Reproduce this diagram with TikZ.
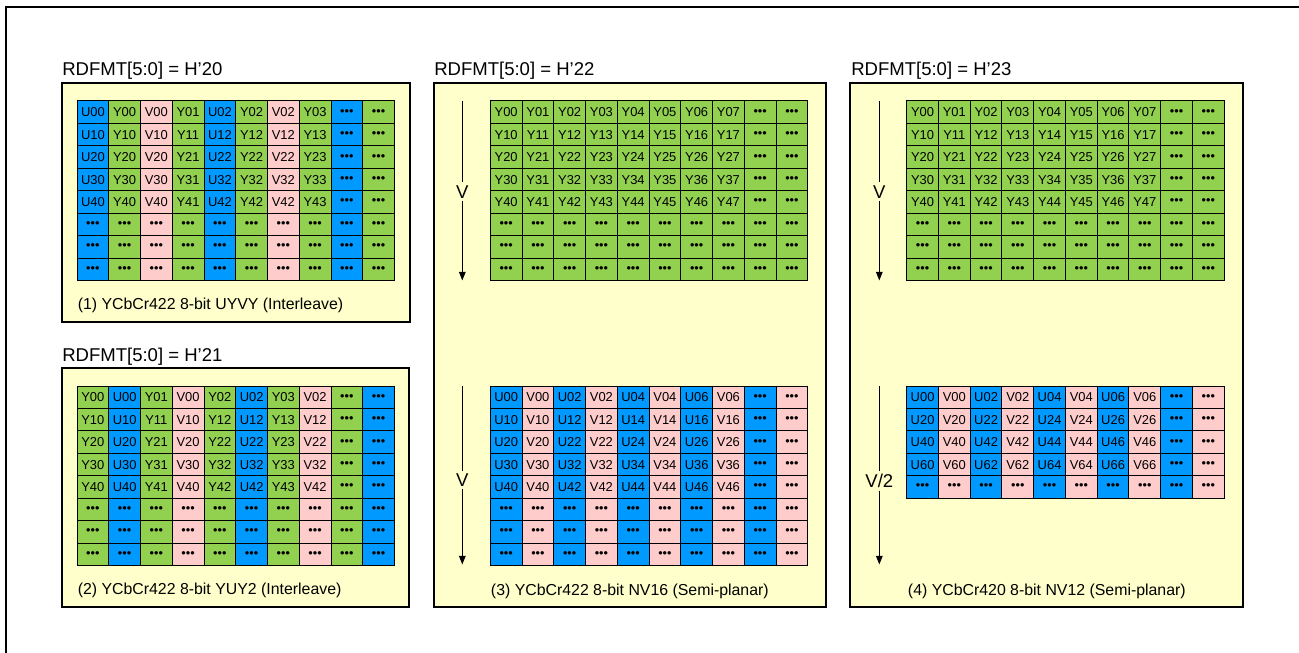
\documentclass[tikz,border=0pt]{standalone}
\usepackage{fontspec}
\setmainfont{Liberation Sans}
\usetikzlibrary{arrows.meta}
\definecolor{cb}{RGB}{0,153,255}
\definecolor{cg}{RGB}{146,208,80}
\definecolor{cp}{RGB}{255,204,204}
\definecolor{cy}{RGB}{255,255,204}
\newcommand\cellfont{\fontsize{9.7pt}{11pt}\selectfont}
\newcommand\titlefont{\fontsize{13.9pt}{16pt}\selectfont}
\newcommand\capfont{\fontsize{11.9pt}{14pt}\selectfont}
\newcommand\dotsym{{\fontsize{9.5pt}{10pt}\selectfont •••}}
\tikzset{
 cell/.style={draw=black, line width=0.75pt, minimum width=23.81pt, minimum height=16.84pt, inner sep=0pt, font=\cellfont},
 panel/.style={draw=black, line width=1.5pt, fill=cy},
 title/.style={anchor=base west, inner sep=0pt, font=\titlefont},
 caption/.style={anchor=base west, inner sep=0pt, font=\capfont},
 dirlabel/.style={inner sep=2pt, font=\titlefont, fill=cy},
 dirline/.style={line width=0.75pt},
 dirarrow/.style={line width=0.75pt, -{Triangle[length=6.5pt,width=5pt]}},
}
\newcommand\pixgrid[7]{%
 \foreach \c/\clr/\lt/\ix in {#7}{%
  \foreach \r in {1,...,#4}{%
   \pgfmathsetmacro\xx{#2+(\c+0.5)*31.75}%
   \pgfmathsetmacro\yy{#3+(\r-0.5)*22.45}%
   \pgfmathtruncatemacro\rr{(\r-1)*#6}%
   \ifnum\r>#5\relax\def\txt{\dotsym}\else\ifnum\ix<0\relax\def\txt{\dotsym}\else\edef\txt{\lt\rr\ix}\fi\fi
   \node[cell,fill=\clr] (#1-\r-\c) at (\xx,\yy) {\txt};
  }}}
\begin{document}
\begin{tikzpicture}[x=0.75pt,y=-0.75pt]
\useasboundingbox (0,0) rectangle (1299,653);
% outer frame
\draw[line width=1.5pt] (6,653) -- (6,6.5) -- (1299,6.5);
% panels
\draw[panel] (62,83) rectangle (410,322);
\draw[panel] (62,368) rectangle (409,607);
\draw[panel] (433.5,83) rectangle (826,607);
\draw[panel] (849.5,83) rectangle (1242.5,607);
% titles
\node[title] (t1) at (62,75.5) {RDFMT[5:0] = H’20};
\node[title] (t2) at (62,361) {RDFMT[5:0] = H’21};
\node[title] (t3) at (434,75.5) {RDFMT[5:0] = H’22};
\node[title] (t4) at (851,75.5) {RDFMT[5:0] = H’23};
% grids
\pixgrid{ga}{77}{101}{8}{5}{1}{0/cb/U/0,1/cg/Y/0,2/cp/V/0,3/cg/Y/1,4/cb/U/2,5/cg/Y/2,6/cp/V/2,7/cg/Y/3,8/cb/U/-1,9/cg/Y/-1}
\pixgrid{gb}{77}{386}{8}{5}{1}{0/cg/Y/0,1/cb/U/0,2/cg/Y/1,3/cp/V/0,4/cg/Y/2,5/cb/U/2,6/cg/Y/3,7/cp/V/2,8/cg/Y/-1,9/cb/U/-1}
\pixgrid{gc}{490.3}{101}{8}{5}{1}{0/cg/Y/0,1/cg/Y/1,2/cg/Y/2,3/cg/Y/3,4/cg/Y/4,5/cg/Y/5,6/cg/Y/6,7/cg/Y/7,8/cg/Y/-1,9/cg/Y/-1}
\pixgrid{gd}{490.3}{386}{8}{5}{1}{0/cb/U/0,1/cp/V/0,2/cb/U/2,3/cp/V/2,4/cb/U/4,5/cp/V/4,6/cb/U/6,7/cp/V/6,8/cb/U/-1,9/cp/V/-1}
\pixgrid{ge}{906.7}{101}{8}{5}{1}{0/cg/Y/0,1/cg/Y/1,2/cg/Y/2,3/cg/Y/3,4/cg/Y/4,5/cg/Y/5,6/cg/Y/6,7/cg/Y/7,8/cg/Y/-1,9/cg/Y/-1}
\pixgrid{gf}{906.7}{386}{5}{4}{2}{0/cb/U/0,1/cp/V/0,2/cb/U/2,3/cp/V/2,4/cb/U/4,5/cp/V/4,6/cb/U/6,7/cp/V/6,8/cb/U/-1,9/cp/V/-1}
% captions
\node[caption] (c1) at (77.5,309) {(1) YCbCr422 8-bit UYVY (Interleave)};
\node[caption] (c2) at (77.5,594.5) {(2) YCbCr422 8-bit YUY2 (Interleave)};
\node[caption] (c3) at (490.7,595) {(3) YCbCr422 8-bit NV16 (Semi-planar)};
\node[caption] (c4) at (907.7,595) {(4) YCbCr420 8-bit NV12 (Semi-planar)};
% direction arrows
\coordinate (a3t) at (462.3,101); \coordinate (a3b) at (462.3,280.5);
\coordinate (a3u) at (462.3,386); \coordinate (a3d) at (462.3,564.5);
\coordinate (a4t) at (879.3,101); \coordinate (a4b) at (879.3,280.5);
\coordinate (a4u) at (879.3,386); \coordinate (a4d) at (879.3,564.5);
\node[dirlabel] (v3t) at (462.3,191.7) {V};
\node[dirlabel] (v3b) at (462.3,480) {V};
\node[dirlabel] (v4t) at (879.3,191.7) {V};
\node[dirlabel] (v4b) at (879.3,481) {V/2};
\draw[dirline] (a3t) -- (v3t); \draw[dirarrow] (v3t) -- (a3b);
\draw[dirline] (a3u) -- (v3b); \draw[dirarrow] (v3b) -- (a3d);
\draw[dirline] (a4t) -- (v4t); \draw[dirarrow] (v4t) -- (a4b);
\draw[dirline] (a4u) -- (v4b); \draw[dirarrow] (v4b) -- (a4d);
\end{tikzpicture}
\end{document}
